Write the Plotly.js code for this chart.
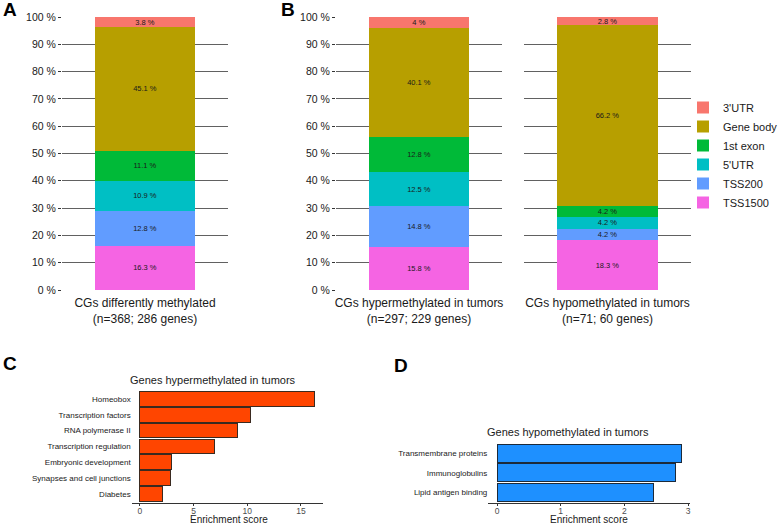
<!DOCTYPE html>
<html>
<head>
<meta charset="utf-8">
<script src="https://cdn.plot.ly/plotly-3.0.1.min.js"></script>
<style>html,body{margin:0;padding:0;background:#fff;overflow:hidden;}#chart{width:778px;height:524px;}</style>
</head>
<body>
<div id="chart"></div>
<script>
// ---- Data ----
const segments = ["TSS1500", "TSS200", "5'UTR", "1st exon", "Gene body", "3'UTR"];
const segmentColors = ["#F564E3", "#619CFF", "#00BFC4", "#00BA38", "#B79F00", "#F8766D"];
const groupLabels = [
  "CGs differently methylated<br>(n=368; 286 genes)",
  "CGs hypermethylated in tumors<br>(n=297; 229 genes)",
  "CGs hypomethylated in tumors<br>(n=71; 60 genes)"
];
const valuesAll = [16.3, 12.8, 10.9, 11.1, 45.1, 3.8];
const valuesHyper = [15.8, 14.8, 12.5, 12.8, 40.1, 4];
const valuesHypo = [18.3, 4.2, 4.2, 4.2, 66.2, 2.8];

const hyperTerms = ["Homeobox", "Transcription factors", "RNA polymerase II", "Transcription regulation",
  "Embryonic development", "Synapses and cell junctions", "Diabetes"];
const hyperScores = [16.28, 10.31, 9.13, 6.93, 2.92, 2.83, 2.12];

const hypoTerms = ["Transmembrane proteins", "Immunoglobulins", "Lipid antigen binding"];
const hypoScores = [2.90, 2.81, 2.45];

const axisTitle = "Enrichment score";

// ---- Build traces ----
const FONT = "Liberation Sans, Arial, Helvetica, sans-serif";
const traces = [];
const stackSets = [
  {vals: valuesAll, label: groupLabels[0], xa: "x", ya: "y"},
  {vals: valuesHyper, label: groupLabels[1], xa: "x2", ya: "y2"},
  {vals: valuesHypo, label: groupLabels[2], xa: "x3", ya: "y3"}
];
stackSets.forEach((s, si) => {
  segments.forEach((seg, i) => {
    traces.push({
      type: "bar",
      x: [s.label],
      y: [s.vals[i]],
      text: [s.vals[i] + " %"],
      textposition: "inside",
      insidetextanchor: "middle",
      textangle: 0,
      constraintext: "none",
      insidetextfont: {size: 7.5, color: "#1a1a1a", family: FONT},
      width: 0.6,
      marker: {color: segmentColors[i], line: {width: 0}},
      name: seg,
      legendgroup: seg,
      showlegend: si === 0,
      xaxis: s.xa,
      yaxis: s.ya,
      hoverinfo: "skip"
    });
  });
});

traces.push({
  type: "bar", orientation: "h",
  x: hyperScores, y: hyperTerms,
  width: 0.93,
  marker: {color: "#FF4500", line: {color: "#3a2a20", width: 1}},
  showlegend: false, xaxis: "x4", yaxis: "y4", hoverinfo: "skip"
});
traces.push({
  type: "bar", orientation: "h",
  x: hypoScores, y: hypoTerms,
  width: 0.92,
  marker: {color: "#1E90FF", line: {color: "#1c2a3a", width: 1}},
  showlegend: false, xaxis: "x5", yaxis: "y5", hoverinfo: "skip"
});

// ---- Layout helpers ----
const W = 778, H = 524;
const px = v => v / W;
const py = v => 1 - v / H;

function stackX(x0, x1, anchor) {
  return {
    domain: [px(x0), px(x1)], anchor: anchor,
    range: [-0.5, 0.5], fixedrange: true,
    showgrid: false, zeroline: false, showline: false, ticks: "",
    ticklabelstandoff: 4,
    tickfont: {size: 12, color: "#1a1a1a", family: FONT}
  };
}
function stackY(anchor, showLabels) {
  return {
    domain: [py(290), py(17)], anchor: anchor,
    range: [0, 100], dtick: 10, tick0: 0,
    ticksuffix: " %", showticklabels: showLabels,
    ticks: showLabels ? "outside" : "", ticklen: 3, tickcolor: "#333",
    showgrid: true, gridcolor: "#3a3a3a", gridwidth: 0.8,
    zeroline: false, showline: false,
    tickfont: {size: 10.5, color: "#1a1a1a", family: FONT}
  };
}
function scoreX(x0, x1, anchor, range, dtick) {
  return {
    domain: [px(x0), px(x1)], anchor: anchor,
    range: range, dtick: dtick, tick0: 0,
    showgrid: false, zeroline: false, showline: true, linecolor: "#333", linewidth: 1,
    ticks: "outside", ticklen: 2, tickcolor: "#333",
    ticklabelstandoff: -2,
    tickfont: {size: 8.5, color: "#4d4d4d", family: FONT}
  };
}
function termY(anchor, y0, y1, terms, range) {
  return {
    domain: [py(y1), py(y0)], anchor: anchor,
    type: "category", categoryorder: "array", categoryarray: terms,
    range: range,
    showgrid: false, zeroline: false, showline: false, ticks: "", ticklen: 0,
    tickfont: {size: 8, color: "#1a1a1a", family: FONT}
  };
}
function paperText(text, x, y, size, anchorX, color) {
  return {text: text, x: px(x), y: py(y), xref: "paper", yref: "paper",
    xanchor: anchorX || "center", yanchor: "middle", showarrow: false, borderpad: 0,
    font: {size: size, color: color || "#1a1a1a", family: FONT}};
}

const layout = {
  width: W, height: H,
  margin: {l: 0, r: 0, t: 0, b: 0, autoexpand: false},
  paper_bgcolor: "#fff", plot_bgcolor: "rgba(0,0,0,0)",
  barmode: "stack",
  font: {family: FONT, color: "#1a1a1a"},
  showlegend: true,
  legend: {
    x: px(683), xanchor: "left", y: py(155), yanchor: "middle",
    traceorder: "reversed", font: {size: 11, color: "#1a1a1a", family: FONT},
    bgcolor: "rgba(0,0,0,0)", itemwidth: 30, tracegroupgap: 0, borderwidth: 0
  },
  xaxis: stackX(62, 228, "y"),
  yaxis: stackY("x", true),
  xaxis2: stackX(336, 502, "y2"),
  yaxis2: stackY("x2", true),
  xaxis3: stackX(524, 691, "y3"),
  yaxis3: stackY("x3", false),
  xaxis4: scoreX(131.7, 323.3, "y4", [-0.77, 17.08], 5),
  yaxis4: termY("x4", 389.5, 502.7, hyperTerms, [6.57, -0.6]),
  xaxis5: scoreX(488.3, 690, "y5", [-0.137, 3.03], 1),
  yaxis5: termY("x5", 442.6, 502.7, hypoTerms, [2.53, -0.55]),
  annotations: [
    paperText("<b>A</b>", 2, 9, 19, "left", "#000"),
    paperText("<b>B</b>", 280, 9, 19, "left", "#000"),
    paperText("<b>C</b>", 2, 363, 19, "left", "#000"),
    paperText("<b>D</b>", 393, 365, 19, "left", "#000"),
    paperText("Genes hypermethylated in tumors", 213, 380, 11),
    paperText("Genes hypomethylated in tumors", 567.5, 432, 11),
    paperText(axisTitle, 229, 519.3, 10),
    paperText(axisTitle, 589, 519.3, 10)
  ]
};

Plotly.newPlot("chart", traces, layout, {staticPlot: true, displayModeBar: false});
</script>
</body>
</html>
